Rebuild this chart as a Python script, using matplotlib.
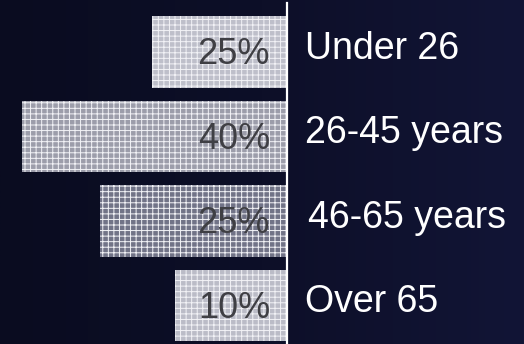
import numpy as np
import matplotlib
matplotlib.use("Agg")
import matplotlib.pyplot as plt
from matplotlib.colors import LinearSegmentedColormap

# Data
groups = ["Under 26", "26-45 years", "46-65 years", "Over 65"]
shares = [25, 40, 25, 10]
# drawn bar lengths (not proportional to the shares in the original)
bar_length = [13.4, 26.4, 18.6, 11.1]
bar_colors = ["#bebfca", "#9c9daa", "#717387", "#bbbcc7"]

plt.rcParams["font.family"] = ["Liberation Sans", "DejaVu Sans"]
plt.rcParams["hatch.linewidth"] = 0.7

fig = plt.figure(figsize=(5.24, 3.44), dpi=100)

# background gradient
bg = fig.add_axes([0, 0, 1, 1], zorder=0)
grad = np.linspace(0, 1, 256).reshape(1, -1)
cmap = LinearSegmentedColormap.from_list("bg", ["#0a0c20", "#0d0f28", "#121536"])
bg.imshow(grad, aspect="auto", cmap=cmap, extent=[0, 1, 0, 1])
bg.axis("off")

ax = fig.add_axes([0, 0, 286 / 524, 1], zorder=1)
ax.patch.set_alpha(0)
y = np.arange(len(groups))
ax.barh(y, bar_length, height=0.85, color=bar_colors, hatch="+++",
        edgecolor="#f2f2f6", linewidth=0)
for yi, s, g in zip(y, shares, groups):
    ax.text(1.6, yi + 0.03, f"{s}%", ha="right", va="center",
            fontsize=26, color="#3f3f44")
    ax.text(-1.9 if yi != 2 else -2.2, yi - 0.04, g, ha="left", va="center",
            fontsize=27, color="white", clip_on=False)

ax.set_xlim(28.6, 0)
ax.set_ylim(3 + 38.5 / 84.5, -52 / 84.5)
ax.axis("off")

# vertical axis line
fig.add_artist(plt.Line2D([287 / 524, 287 / 524], [0, 1 - 3 / 344],
                          color="white", linewidth=1.6, zorder=3))

fig.savefig("out.png", dpi=100)
